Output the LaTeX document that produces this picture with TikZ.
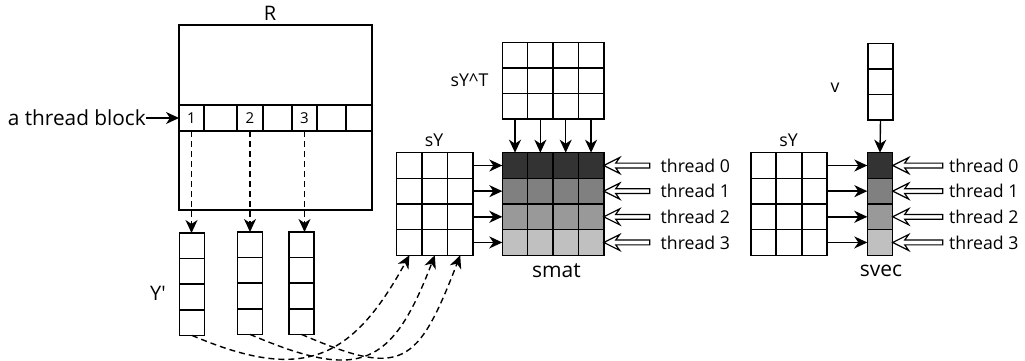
\documentclass[tikz,border=0pt]{standalone}
\usepackage{fontspec}
\setmainfont{Open Sans}
\usetikzlibrary{arrows.meta,calc}

\definecolor{shadeA}{HTML}{333333}
\definecolor{shadeB}{HTML}{808080}
\definecolor{shadeC}{HTML}{999999}
\definecolor{shadeD}{HTML}{C0C0C0}

\begin{document}
\begin{tikzpicture}[x=1pt,y=-1pt,
  cell/.style={draw, line width=1.5pt, minimum width=25.4pt, minimum height=25.6pt,
               inner sep=0pt, outer sep=0pt},
  box/.style={draw, line width=1.5pt, inner sep=0pt, outer sep=0pt},
  arr/.style={line width=1.4pt, -{Stealth[length=13pt,width=12pt,inset=4pt]}},
  dasharr/.style={arr, dash pattern=on 6pt off 4pt},
  lbl/.style={inner sep=0pt, font=\fontsize{17.7}{20}\selectfont},
  biglbl/.style={inner sep=0pt, font=\fontsize{21}{24}\selectfont},
  numlbl/.style={font=\fontsize{15}{17}\selectfont},
  hollow/.pic={\draw[line width=1.2pt, fill=white, line join=miter]
     (0,0) -- (16,-8) -- (12,-2.4) -- (#1,-2.4) -- (#1,2.4) -- (12,2.4) -- (16,8) -- cycle;}
]
\useasboundingbox (0,0) rectangle (1025,361);

% ---- matrix R with the thread-block row ----
\node[box, minimum width=193pt, minimum height=80pt] (rtop) at (275.5,65) {};
\node[box, minimum width=193pt, minimum height=79pt] (rbot) at (275.5,170.5) {};
\foreach \name/\cx/\w/\t in {tb1/191.5/25/1, tb2/220.5/33/, tb3/250/26/2, tb4/277.5/29/,
                            tb5/304.5/25/3, tb6/331.5/29/, tb7/359/26/}
  \node[box, numlbl, minimum width=\w pt, minimum height=26pt] (\name) at (\cx,118) {\t};
\node[inner sep=0pt, font=\fontsize{20}{24}\selectfont] (rlab) at (270,13) {R};
\node[inner sep=0pt, font=\fontsize{20.8}{24}\selectfont, anchor=east] (tblab) at (146,118) {a thread block};
\draw[arr] (tblab.east) -- (tb1.west);

% ---- the columns Y' ----
\foreach \name/\cx/\cy in {yp1/192/245.8, yp2/250/244.8, yp3/301.5/244.8}
  \foreach \r in {0,...,3}
    \node[cell] (\name-\r) at (\cx,\cy+25.6*\r) {};
\node[inner sep=0pt, font=\fontsize{20}{24}\selectfont] (yplab) at (158,293) {Y\textquotesingle};

\draw[dasharr] (tb1.south) -- (tb1.south |- yp1-0.north);
\draw[dasharr] (tb3.south) -- (tb3.south |- yp2-0.north);
\draw[dasharr] (tb5.south) -- (tb5.south |- yp3-0.north);

% ---- sY, sY^T and smat ----
\foreach \r in {0,1,2}
  \foreach \c in {0,...,3}
    \node[cell] (syt-\r-\c) at (515+25.35*\c,55.1+25.67*\r) {};
\foreach \r/\col in {0/shadeA,1/shadeB,2/shadeC,3/shadeD}
  \foreach \c in {0,...,3}
    \node[cell, fill=\col] (smat-\r-\c) at (515+25.35*\c,165.5+25.65*\r) {};
\foreach \r in {0,...,3}
  \foreach \c in {0,1,2}
    \node[cell] (sy-\r-\c) at (409.4+25.4*\c,165.5+25.65*\r) {};

\node[lbl] (sytlab) at (469.5,80.5) {sY\^{}T};
\node[lbl] (sylab) at (434,140) {sY};
\node[biglbl] (smatlab) at (556.5,271) {smat};

\foreach \c in {0,...,3}
  \draw[arr] (syt-2-\c.south) -- (smat-0-\c.north);
\foreach \r in {0,...,3}
  \draw[arr] (sy-\r-2.east) -- (smat-\r-0.west);

\foreach \r in {0,...,3} {
  \pic at (smat-\r-3.east) {hollow=46};
  \node[lbl, anchor=west] (tl-\r) at (660.5,165.5+25.65*\r) {thread \r};
}

% ---- Y' columns gathered into sY ----
\draw[dasharr] (yp1-3.south) .. controls +(110,47) and +(-58,106) .. (sy-3-0.south);
\draw[dasharr] (yp2-3.south) .. controls +(110,47) and +(-43,112) .. (sy-3-1.south);
\draw[dasharr] (yp3-3.south) .. controls +(100,43) and +(-43,112) .. (sy-3-2.south);

% ---- sY, v and svec ----
\foreach \r in {0,...,3}
  \foreach \c in {0,1,2}
    \node[cell] (sy2-\r-\c) at (763.45+25.5*\c,165.5+25.65*\r) {};
\foreach \r in {0,1,2}
  \node[cell] (v-\r) at (880.5,56.1+25.6*\r) {};
\foreach \r/\col in {0/shadeA,1/shadeB,2/shadeC,3/shadeD}
  \node[cell, fill=\col] (svec-\r) at (880,165.5+25.65*\r) {};

\node[lbl] (vlab) at (835,88) {v};
\node[lbl] (sy2lab) at (788.5,140) {sY};
\node[biglbl] (sveclab) at (881,271) {svec};

\draw[arr] (v-2.south) -- (svec-0.north);
\foreach \r in {0,...,3}
  \draw[arr] (sy2-\r-2.east) -- (svec-\r.west);

\foreach \r in {0,...,3} {
  \pic at (svec-\r.east) {hollow=50};
  \node[lbl, anchor=west] (tr-\r) at (949,165.5+25.65*\r) {thread \r};
}
\end{tikzpicture}
\end{document}
